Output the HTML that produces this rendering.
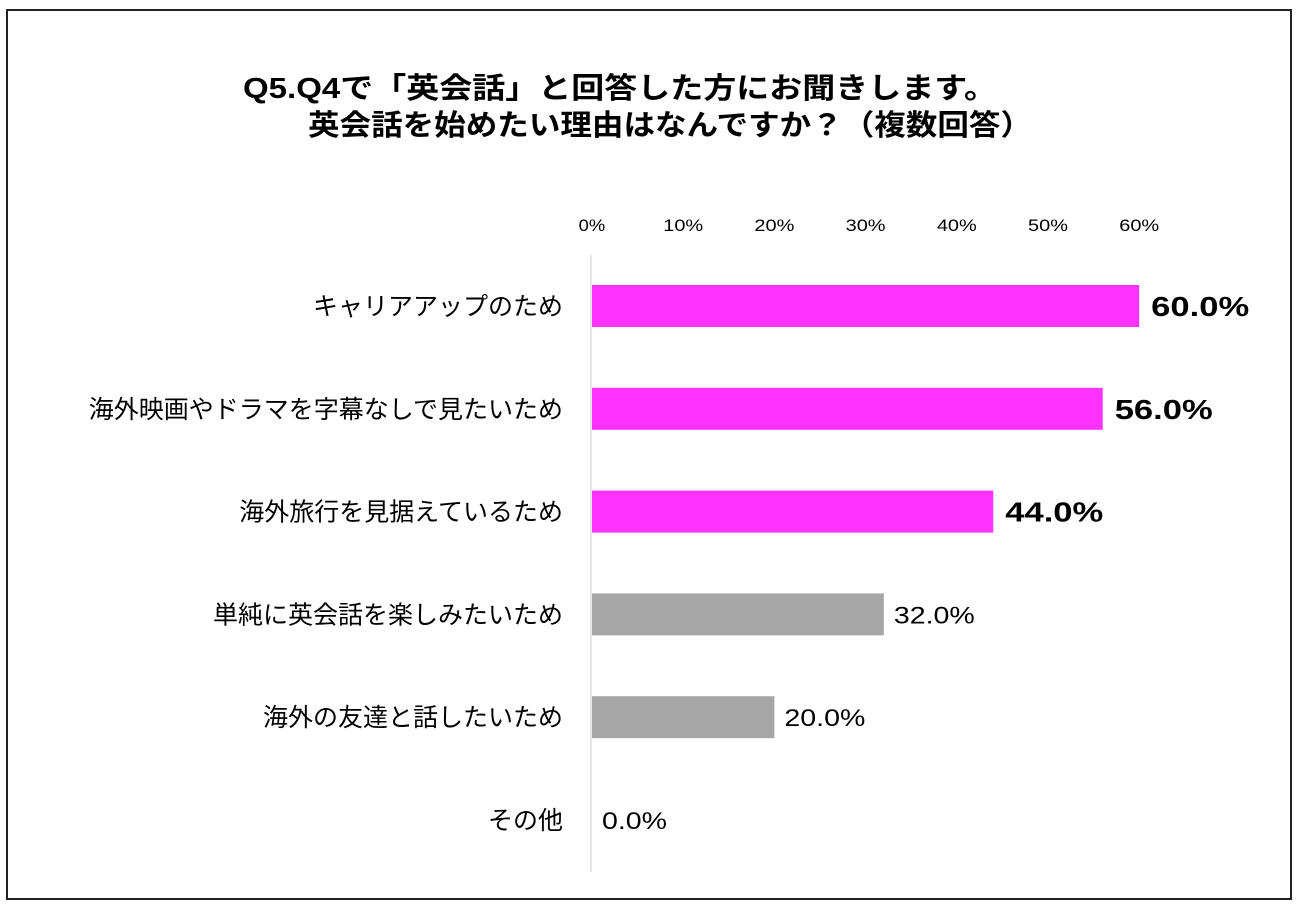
<!DOCTYPE html>
<html><head><meta charset="utf-8"><style>
body{margin:0;width:1304px;height:914px;background:#fff;overflow:hidden;font-family:"Liberation Sans","Noto Sans CJK JP",sans-serif;}
#frame{position:absolute;left:6px;top:9px;width:1286px;height:891px;border:2px solid #222;box-sizing:border-box;}
</style></head><body>
<div id="frame"></div>
<svg width="1304" height="914" style="position:absolute;left:0;top:0">
<text x="243" y="98" font-size="29" font-weight="bold" fill="#000" textLength="754" lengthAdjust="spacingAndGlyphs">Q5.Q4で「英会話」と回答した方にお聞きします。</text>
<text x="308" y="135" font-size="29" font-weight="bold" fill="#000" textLength="724" lengthAdjust="spacingAndGlyphs">英会話を始めたい理由はなんですか？（複数回答）</text>
<line x1="591" y1="255" x2="591" y2="872" stroke="#e0e0e0" stroke-width="1.5"/>
<g id="ticks"></g><g id="bars"></g>
</svg>
<script>
const categories=["キャリアアップのため","海外映画やドラマを字幕なしで見たいため","海外旅行を見据えているため","単純に英会話を楽しみたいため","海外の友達と話したいため","その他"];
const values=[60.0,56.0,44.0,32.0,20.0,0.0];
const highlight=[true,true,true,false,false,false];
const tickValues=[0,10,20,30,40,50,60];
const NS="http://www.w3.org/2000/svg";
const x=v=>592+v*9.12;
const y=i=>306+i*102.8;
const ticks=document.getElementById('ticks'),bars=document.getElementById('bars');
function mk(tag,attrs,parent){const e=document.createElementNS(NS,tag);for(const k in attrs)e.setAttribute(k,attrs[k]);parent.appendChild(e);return e;}
tickValues.forEach(t=>{const s=t+'%';const e=mk('text',{x:x(t),y:231,'text-anchor':'middle','font-size':17,fill:'#000',textLength:s.length*13.3,lengthAdjust:'spacingAndGlyphs'},ticks);


e.textContent=s;});
categories.forEach((c,i)=>{
const l=mk('text',{x:563,y:y(i)+9,'text-anchor':'end','font-size':25,fill:'#000'},bars);


l.textContent=c;
if(values[i]>0){const r=mk('rect',{x:592,y:y(i)-21,width:x(values[i])-592,height:42,fill:highlight[i]?'#FF33FF':'#A6A6A6'},bars);

}
const v=mk('text',{x:x(values[i])+(highlight[i]?12:10),y:y(i)+(highlight[i]?10:9),'font-size':highlight[i]?28:24,'font-weight':highlight[i]?'bold':'normal',fill:'#000',textLength:highlight[i]?98:(values[i]>0?81:65),lengthAdjust:'spacingAndGlyphs'},bars);


v.textContent=values[i].toFixed(1)+'%';
});
</script>
</body></html>
